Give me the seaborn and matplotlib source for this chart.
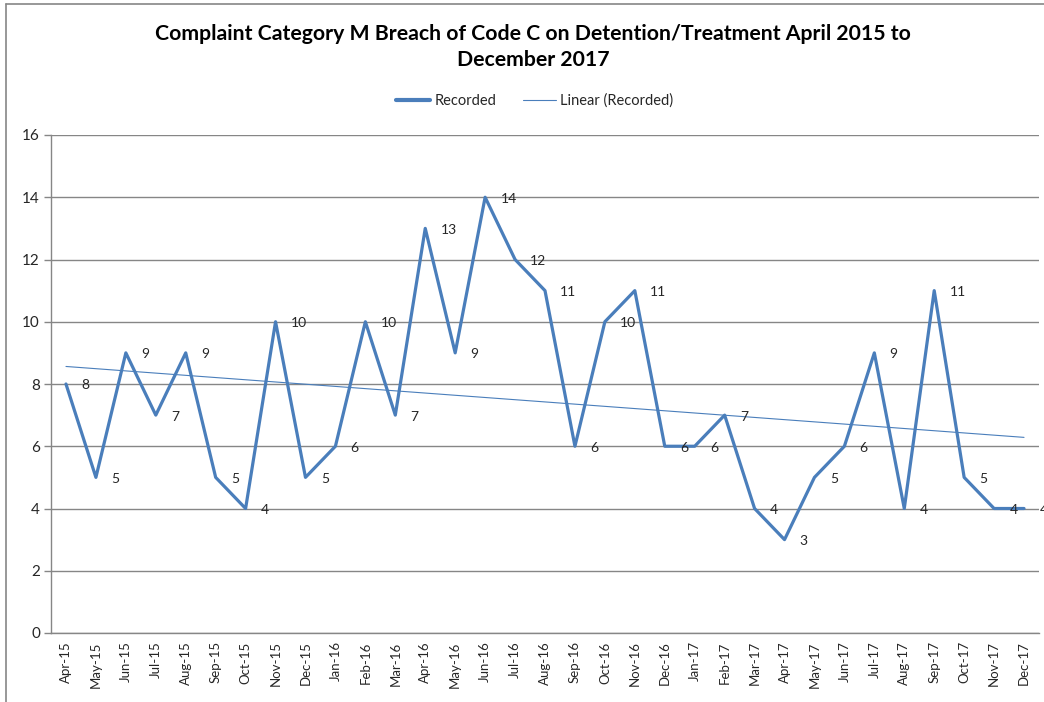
import numpy as np
import pandas as pd
import matplotlib
matplotlib.use("Agg")
import matplotlib.pyplot as plt
from matplotlib.lines import Line2D
import seaborn as sns

months = ["Apr-15", "May-15", "Jun-15", "Jul-15", "Aug-15", "Sep-15", "Oct-15", "Nov-15",
          "Dec-15", "Jan-16", "Feb-16", "Mar-16", "Apr-16", "May-16", "Jun-16", "Jul-16",
          "Aug-16", "Sep-16", "Oct-16", "Nov-16", "Dec-16", "Jan-17", "Feb-17", "Mar-17",
          "Apr-17", "May-17", "Jun-17", "Jul-17", "Aug-17", "Sep-17", "Oct-17", "Nov-17",
          "Dec-17"]
recorded = [8, 5, 9, 7, 9, 5, 4, 10, 5, 6, 10, 7, 13, 9, 14, 12, 11, 6, 10, 11, 6, 6, 7,
            4, 3, 5, 6, 9, 4, 11, 5, 4, 4]
y_ticks = [0, 2, 4, 6, 8, 10, 12, 14, 16]

title = "Complaint Category M Breach of Code C on Detention/Treatment April 2015 to\nDecember 2017"

sns.set_theme(style="white")
plt.rcParams['font.family'] = ['Lato', 'DejaVu Sans']

df = pd.DataFrame({"idx": np.arange(len(months)), "Recorded": recorded})

W, H = 1044, 702
fig = plt.figure(figsize=(W / 100, H / 100), dpi=100)
ax = fig.add_axes([51 / W, 1 - 633 / H, (1039 - 51) / W, (633 - 135) / H])

blue = "#4A7EBB"
sns.lineplot(data=df, x="idx", y="Recorded", ax=ax, color=blue, linewidth=2.3,
             label="Recorded", legend=False)
sns.regplot(data=df, x="idx", y="Recorded", ax=ax, scatter=False, ci=None,
            color=blue, line_kws={"linewidth": 0.8}, truncate=True)

for i, v in enumerate(recorded):
    ax.annotate(str(v), (i, v), xytext=(11, -1), textcoords="offset points",
                ha="left", va="center", fontsize=10, color="#262626",
                annotation_clip=False)

ax.set_xlim(-0.5, len(months) - 0.5)
ax.set_ylim(0, 16)
ax.set_yticks(y_ticks)
ax.set_yticklabels([str(t) for t in y_ticks], fontsize=11, color="#262626")
ax.set_xticks(np.arange(len(months)))
ax.set_xticklabels(months, rotation=90, fontsize=9.5, color="#262626")
ax.set_xticks(np.arange(len(months) + 1) - 0.5, minor=True)
ax.tick_params(axis="x", which="major", length=0, pad=6)
ax.tick_params(axis="x", which="minor", length=5, color="#868686", width=1, direction="out")
ax.tick_params(axis="y", length=5, color="#868686", width=1, direction="out", left=True, pad=3)
ax.set_xlabel("")
ax.set_ylabel("")

ax.grid(axis="y", color="#868686", linewidth=1)
ax.set_axisbelow(True)
for s in ["top", "right"]:
    ax.spines[s].set_visible(False)
for s in ["left", "bottom"]:
    ax.spines[s].set_color("#868686")
    ax.spines[s].set_linewidth(1)

fig.text(533 / W, 1 - 47 / H, title, ha="center", va="center", fontsize=15.3,
         fontweight="bold", color="black", linespacing=1.4)

handles = [Line2D([0], [0], color=blue, linewidth=3),
           Line2D([0], [0], color=blue, linewidth=0.8)]
fig.legend(handles, ["Recorded", "Linear (Recorded)"], loc="center",
           bbox_to_anchor=(535 / W, 1 - 101 / H), ncol=2, frameon=False,
           fontsize=10.5, handlelength=2.3, handletextpad=0.3, columnspacing=1.8)

# chart-area border (top and left visible)
fig.add_artist(Line2D([6 / W, 1], [1 - 4 / H, 1 - 4 / H], color="#868686", linewidth=1.2,
                      transform=fig.transFigure))
fig.add_artist(Line2D([6 / W, 6 / W], [0, 1 - 4 / H], color="#868686", linewidth=1.2,
                      transform=fig.transFigure))

fig.savefig("out.png", dpi=100)
